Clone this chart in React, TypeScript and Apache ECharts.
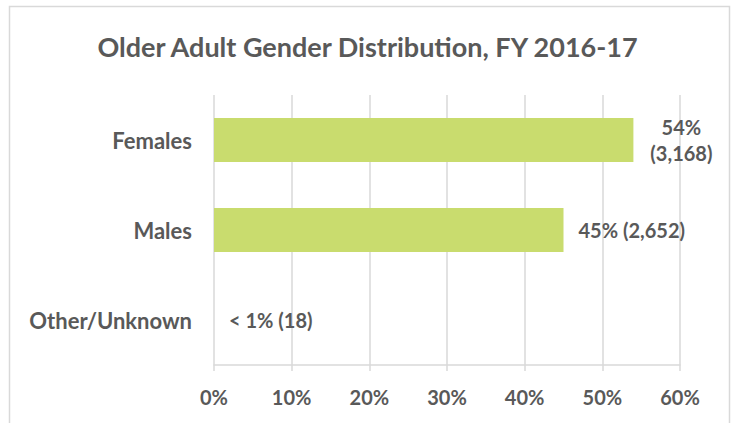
import React, { useEffect, useRef } from "react";
import * as echarts from "echarts";

const categories = ["Females", "Males", "Other/Unknown"];
const percentValues = [54, 45, 0];
const dataLabels = ["54%\n(3,168)", "45% (2,652)", "< 1% (18)"];
const xTicks = [0, 10, 20, 30, 40, 50, 60];

const FONT = "Lato, 'Open Sans', sans-serif";
const TEXT = "#595959";

export default function App() {
  const ref = useRef<HTMLDivElement>(null);
  useEffect(() => {
    if (!ref.current) return;
    const chart = echarts.init(ref.current, null, { renderer: "svg" });
    chart.setOption({
      animation: false,
      backgroundColor: "#ffffff",
      title: {
        text: "Older Adult Gender Distribution, FY 2016-17",
        left: "center",
        top: 28,
        textStyle: { fontFamily: FONT, fontWeight: "bold", fontSize: 27, color: TEXT },
      },
      graphic: [
        {
          type: "rect",
          shape: { x: 9.5, y: 6.5, width: 720, height: 440 },
          style: { fill: "none", stroke: "#d9d9d9", lineWidth: 1.5 },
          silent: true,
        },
      ],
      grid: { left: 214, right: 55, top: 95, bottom: 58, containLabel: false },
      xAxis: {
        type: "value",
        min: 0,
        max: xTicks[xTicks.length - 1],
        interval: 10,
        axisLine: { show: true, lineStyle: { color: "#d9d9d9", width: 1.5 } },
        axisTick: { show: true, length: 6, lineStyle: { color: "#d9d9d9", width: 1.5 } },
        splitLine: { show: true, lineStyle: { color: "#d9d9d9", width: 1.5 } },
        axisLabel: {
          margin: 22,
          formatter: (v: number) => `${v}%`,
          fontFamily: FONT,
          fontWeight: "bold",
          fontSize: 20,
          color: TEXT,
        },
      },
      yAxis: {
        type: "category",
        data: categories,
        inverse: true,
        axisLine: { show: false },
        axisTick: { show: false },
        splitLine: { show: false },
        axisLabel: {
          margin: 22,
          fontFamily: FONT,
          fontWeight: "bold",
          fontSize: 22,
          color: TEXT,
        },
      },
      series: [
        {
          type: "bar",
          barWidth: "49%",
          itemStyle: { color: "#c9dc6e" },
          data: percentValues.map((v, i) => {
            const item: any = {
              value: v,
              label: {
                show: true,
                position: "right",
                distance: 15,
                formatter: dataLabels[i],
                fontFamily: FONT,
                fontWeight: "bold",
                fontSize: 20,
                color: TEXT,
                lineHeight: 26,
              },
            };
            if (i === 0) {
              item.label.align = "center";
              item.label.offset = [33, 0];
            }
            return item;
          }),
        },
      ],
    });
    return () => chart.dispose();
  }, []);
  return <div ref={ref} style={{ width: 735, height: 423, position: "absolute", left: 0, top: 0 }} />;
}
